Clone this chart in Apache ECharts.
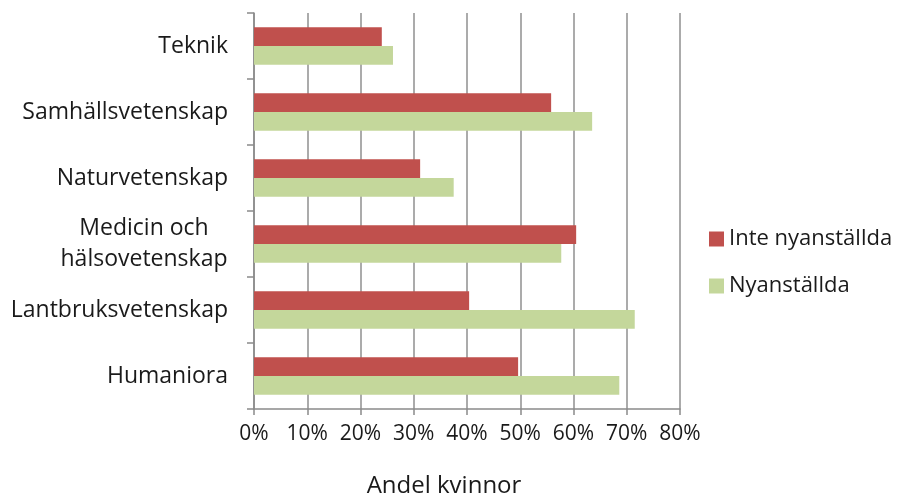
<!DOCTYPE html>
<html><head><meta charset="utf-8">
<script src="https://cdn.jsdelivr.net/npm/echarts@6/dist/echarts.min.js"></script>
<style>html,body{margin:0;padding:0;background:#fff}#c{width:900px;height:497px}</style>
</head><body><div id="c"></div>
<script>
const categories = ['Teknik','Samhällsvetenskap','Naturvetenskap','Medicin och\nhälsovetenskap','Lantbruksvetenskap','Humaniora'];
const inteNyanstallda = [0.240, 0.558, 0.312, 0.605, 0.404, 0.496];
const nyanstallda = [0.261, 0.635, 0.375, 0.577, 0.715, 0.686];
const xTicks = [0, 0.1, 0.2, 0.3, 0.4, 0.5, 0.6, 0.7, 0.8];
const seriesNames = ['Inte nyanställda', 'Nyanställda'];
const axisTitle = 'Andel kvinnor';

const FONT = 'Open Sans';
const FS_Y = 23, FS_X = 21, FS_L = 22;
const cv = document.createElement('canvas').getContext('2d');
cv.font = FS_Y + 'px "' + FONT + '"';
const wideLine = Math.ceil(cv.measureText('hälsovetenskap').width);

const chart = echarts.init(document.getElementById('c'), null, {renderer: 'canvas'});
chart.setOption({
  animation: false,
  textStyle: {fontFamily: FONT},
  grid: {left: 254, top: 13, right: 220, bottom: 88},
  legend: {
    orient: 'vertical', left: 704, top: 223, itemWidth: 15, itemHeight: 15, itemGap: 25, itemStyle: {borderWidth: 0},
    icon: 'rect', textStyle: {fontSize: FS_L, color: '#1a1a1a', fontFamily: FONT},
    data: seriesNames
  },
  xAxis: {
    type: 'value', min: xTicks[0], max: xTicks[xTicks.length - 1], interval: 0.1,
    axisLine: {show: true, lineStyle: {color: '#8a8a8a', width: 1.5}},
    axisTick: {show: true, length: 6, lineStyle: {color: '#8a8a8a', width: 1.5}},
    splitLine: {show: true, lineStyle: {color: '#8f8f8f', width: 1.5}},
    axisLabel: {fontSize: FS_X, color: '#1a1a1a', margin: 15, formatter: v => Math.round(v * 100) + '%'}
  },
  yAxis: {
    type: 'category', data: categories, inverse: true,
    axisLine: {show: true, lineStyle: {color: '#8a8a8a', width: 1.5}},
    axisTick: {show: true, length: 7, lineStyle: {color: '#8a8a8a', width: 1.5}},
    axisLabel: {fontSize: FS_Y, color: '#1a1a1a', margin: 26, lineHeight: 31,
      formatter: v => v === categories[3] ? '{c|Medicin och}\n{c|hälsovetenskap}' : v,
      rich: {c: {fontSize: FS_Y, color: '#1a1a1a', fontFamily: FONT, width: wideLine, align: 'center', lineHeight: 31}}}
  },
  series: [
    {name: seriesNames[0], type: 'bar', data: inteNyanstallda, barGap: '0%', barCategoryGap: '43%', itemStyle: {color: '#c0504d'}},
    {name: seriesNames[1], type: 'bar', data: nyanstallda, barGap: '0%', barCategoryGap: '43%', itemStyle: {color: '#c4d79b'}}
  ],
  graphic: [{type: 'text', style: {text: axisTitle, x: 444, y: 486, align: 'center', verticalAlign: 'middle', fontSize: 24, fill: '#1a1a1a', fontFamily: FONT}}]
});
</script></body></html>
